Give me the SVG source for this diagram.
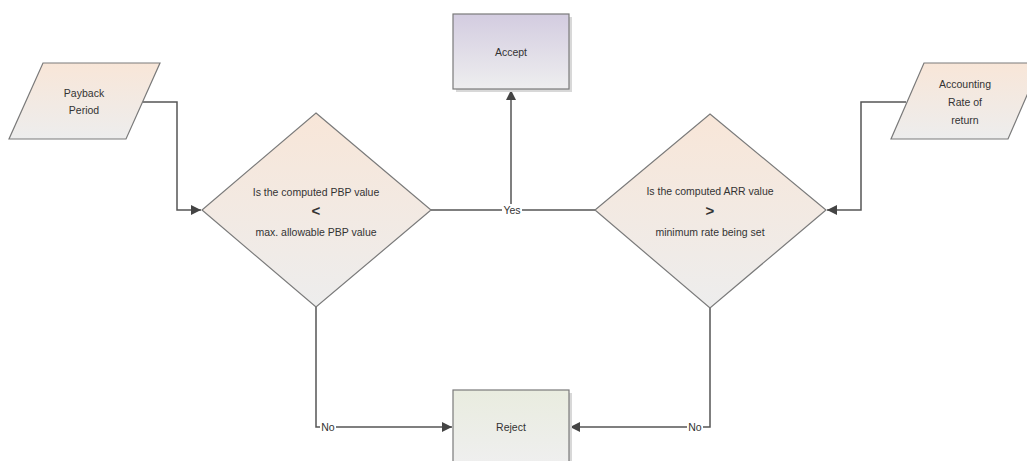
<svg xmlns="http://www.w3.org/2000/svg" width="1027" height="461" viewBox="0 0 1027 461">
  <defs>
    <linearGradient id="gPeach" x1="0" y1="0" x2="0" y2="1">
      <stop offset="0" stop-color="#f8e6d8"/>
      <stop offset="1" stop-color="#ededed"/>
    </linearGradient>
    <linearGradient id="gLavender" x1="0" y1="0" x2="0" y2="1">
      <stop offset="0" stop-color="#d3cce0"/>
      <stop offset="1" stop-color="#eeeeef"/>
    </linearGradient>
    <linearGradient id="gSage" x1="0" y1="0" x2="0" y2="1">
      <stop offset="0" stop-color="#e9ecdf"/>
      <stop offset="1" stop-color="#efefef"/>
    </linearGradient>
    <marker id="arrow" viewBox="0 0 10 10" refX="10" refY="5" markerWidth="10" markerHeight="10" markerUnits="userSpaceOnUse" orient="auto">
      <path d="M0,0 L10,5 L0,10 Z" fill="#444"/>
    </marker>
  </defs>
  <style>
    .shape { stroke: #7a7a7a; stroke-width: 1.2; }
    .shadow { fill: #d8d8d8; }
    .label { font-family: "Liberation Sans", Arial, sans-serif; font-size: 10.5px; fill: #333; text-anchor: middle; dominant-baseline: central; }
    .sym { font-size: 15px; font-weight: bold; }
    .edge { fill: none; stroke: #555; stroke-width: 1.5; }
    .edge-label { font-family: "Liberation Sans", Arial, sans-serif; font-size: 10.5px; fill: #333; text-anchor: middle; dominant-baseline: central; }
  </style>

  <rect width="1027" height="461" fill="#ffffff"/>

  <!-- connectors -->
  <g id="connectors">
    <path class="edge" d="M143,102 H177 V210 H201" marker-end="url(#arrow)"/>
    <path class="edge" d="M906,102 H861 V210 H827" marker-end="url(#arrow)"/>
    <path class="edge" d="M431,210 H595"/>
    <path class="edge" d="M511,210 V90" marker-end="url(#arrow)"/>
    <path class="edge" d="M316,307 V427 H452" marker-end="url(#arrow)"/>
    <path class="edge" d="M710,308 V427 H570" marker-end="url(#arrow)"/>
    <rect x="502" y="204" width="20" height="12" fill="#ffffff"/>
    <text class="edge-label" x="512" y="210">Yes</text>
    <rect x="320" y="421" width="16" height="12" fill="#ffffff"/>
    <text class="edge-label" x="328" y="427">No</text>
    <rect x="687" y="421" width="16" height="12" fill="#ffffff"/>
    <text class="edge-label" x="695" y="427">No</text>
  </g>

  <!-- input: payback period -->
  <g id="payback-period">
    <polygon class="shape" points="43,63 160,63 126,139 9,139" fill="url(#gPeach)"/>
    <text class="label" x="84" y="93">Payback</text>
    <text class="label" x="84" y="110">Period</text>
  </g>

  <!-- input: accounting rate of return -->
  <g id="accounting-rate">
    <polygon class="shape" points="924,63 1041,63 1008,139 891,139" fill="url(#gPeach)"/>
    <text class="label" x="965" y="84">Accounting</text>
    <text class="label" x="965" y="102">Rate of</text>
    <text class="label" x="965" y="120">return</text>
  </g>

  <!-- decision: PBP -->
  <g id="pbp-decision">
    <polygon class="shape" points="316,113 431,210 316,307 202,210" fill="url(#gPeach)"/>
    <text class="label" x="316" y="192">Is the computed PBP value</text>
    <text class="label sym" x="316" y="210">&lt;</text>
    <text class="label" x="316" y="232">max. allowable PBP value</text>
  </g>

  <!-- decision: ARR -->
  <g id="arr-decision">
    <polygon class="shape" points="710,114 826,210 710,308 595,210" fill="url(#gPeach)"/>
    <text class="label" x="710" y="191">Is the computed ARR value</text>
    <text class="label sym" x="710" y="210">&gt;</text>
    <text class="label" x="710" y="232">minimum rate being set</text>
  </g>

  <!-- outcome: accept -->
  <g id="accept">
    <rect class="shadow" x="456" y="17" width="116" height="75"/>
    <rect class="shape" x="453" y="14" width="116" height="75" fill="url(#gLavender)"/>
    <text class="label" x="511" y="52">Accept</text>
  </g>

  <!-- outcome: reject -->
  <g id="reject">
    <rect class="shadow" x="456" y="393" width="116" height="75"/>
    <rect class="shape" x="453" y="390" width="116" height="75" fill="url(#gSage)"/>
    <text class="label" x="511" y="427">Reject</text>
  </g>
</svg>
